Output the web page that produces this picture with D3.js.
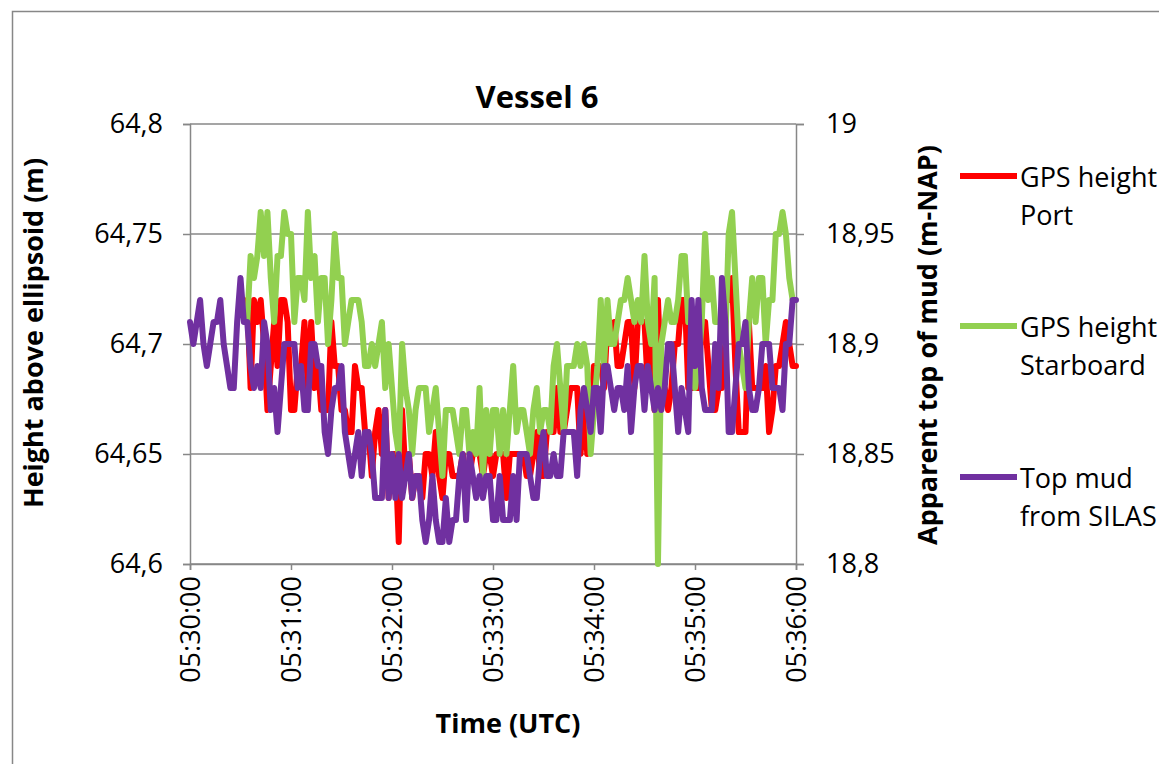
<!DOCTYPE html>
<html>
<head>
<meta charset="utf-8">
<script src="https://cdn.jsdelivr.net/npm/d3@7"></script>
<style>
  body { margin: 0; background: #fff; }
  svg { display: block; }
  text { font-family: "Open Sans", "Noto Sans", sans-serif; fill: #000; }
</style>
</head>
<body>
<svg id="chart" width="1159" height="764"></svg>
<script>
// ---- data -------------------------------------------------------------
const chartTitle = "Vessel 6";
const xTitle = "Time (UTC)";
const leftTitle = "Height above ellipsoid (m)";
const rightTitle = "Apparent top of mud (m-NAP)";

const timeTickLabels = ["05:30:00", "05:31:00", "05:32:00", "05:33:00", "05:34:00", "05:35:00", "05:36:00"];
const leftTicks = [64.6, 64.65, 64.7, 64.75, 64.8];
const rightTicks = [18.8, 18.85, 18.9, 18.95, 19];

const sampleSeconds = 2;           // logging interval of all three records
const gpsStart = "05:30:34";       // first GPS fix
const mudStart = "05:30:00";       // first SILAS reading

// GPS height, port antenna (m above ellipsoid)
const gpsPort = [
  64.72,64.68,64.72,64.71,64.72,64.70,64.67,64.69,64.71,64.69,
  64.72,64.72,64.71,64.67,64.67,64.69,64.69,64.71,64.68,64.71,
  64.68,64.69,64.67,64.67,64.67,64.71,64.69,64.69,64.67,64.67,
  64.66,64.66,64.69,64.68,64.68,64.66,64.66,64.64,64.66,64.67,
  64.65,64.67,64.63,64.65,64.65,64.61,64.67,64.64,64.65,64.63,
  64.64,64.64,64.63,64.65,64.65,64.64,64.66,64.64,64.63,64.65,
  64.65,64.64,64.64,64.64,64.65,64.64,64.64,64.65,64.65,64.65,
  64.64,64.65,64.65,64.64,64.65,64.65,64.65,64.63,64.65,64.65,
  64.65,64.65,64.65,64.64,64.64,64.65,64.66,64.64,64.64,64.66,
  64.66,64.66,64.68,64.66,64.66,64.67,64.68,64.68,64.68,64.65,
  64.67,64.65,64.67,64.69,64.69,64.69,64.68,64.71,64.70,64.71,
  64.69,64.69,64.70,64.71,64.71,64.68,64.71,64.71,64.71,64.68,
  64.70,64.67,64.72,64.68,64.68,64.67,64.68,64.70,64.70,64.72,
  64.72,64.68,64.68,64.68,64.68,64.71,64.71,64.69,64.67,64.67,
  64.68,64.68,64.72,64.72,64.73,64.69,64.66,64.66,64.66,64.71,
  64.68,64.68,64.68,64.68,64.69,64.66,64.67,64.69,64.69,64.70,
  64.71,64.70,64.69,64.69
];

// GPS height, starboard antenna (m above ellipsoid)
const gpsStarboard = [
  64.71,64.74,64.73,64.74,64.76,64.74,64.76,64.73,64.71,64.74,
  64.74,64.76,64.75,64.75,64.71,64.73,64.73,64.72,64.76,64.73,
  64.74,64.71,64.73,64.73,64.70,64.72,64.75,64.73,64.73,64.70,
  64.71,64.72,64.72,64.72,64.71,64.69,64.69,64.70,64.69,64.70,
  64.71,64.68,64.70,64.68,64.66,64.65,64.70,64.68,64.67,64.65,
  64.67,64.68,64.68,64.68,64.66,64.67,64.68,64.66,64.64,64.67,
  64.67,64.67,64.66,64.65,64.67,64.67,64.65,64.66,64.65,64.68,
  64.64,64.67,64.65,64.67,64.67,64.65,64.67,64.65,64.67,64.69,
  64.66,64.67,64.67,64.66,64.65,64.67,64.68,64.66,64.67,64.67,
  64.66,64.69,64.70,64.68,64.66,64.69,64.69,64.69,64.70,64.69,
  64.70,64.69,64.65,64.67,64.69,64.72,64.69,64.72,64.70,64.70,
  64.71,64.72,64.72,64.73,64.72,64.71,64.72,64.71,64.74,64.71,
  64.70,64.73,64.60,64.70,64.71,64.72,64.71,64.71,64.72,64.74,
  64.74,64.71,64.71,64.68,64.69,64.71,64.75,64.72,64.73,64.71,
  64.71,64.71,64.70,64.75,64.76,64.73,64.70,64.69,64.68,64.71,
  64.73,64.71,64.73,64.73,64.70,64.72,64.72,64.75,64.75,64.76,
  64.75,64.73,64.72
];

// Apparent top of mud from SILAS (m-NAP)
const topMud = [
  18.91,18.90,18.91,18.92,18.90,18.89,18.90,18.91,18.91,18.92,
  18.90,18.89,18.88,18.88,18.91,18.93,18.91,18.91,18.89,18.88,
  18.89,18.88,18.91,18.90,18.87,18.88,18.86,18.88,18.90,18.90,
  18.90,18.90,18.88,18.89,18.87,18.87,18.90,18.90,18.89,18.89,
  18.86,18.85,18.87,18.88,18.88,18.89,18.86,18.85,18.84,18.85,
  18.86,18.84,18.86,18.86,18.85,18.83,18.83,18.83,18.87,18.83,
  18.85,18.83,18.85,18.83,18.84,18.85,18.83,18.84,18.84,18.82,
  18.81,18.82,18.84,18.82,18.81,18.81,18.83,18.81,18.82,18.82,
  18.84,18.85,18.82,18.85,18.84,18.83,18.84,18.83,18.84,18.84,
  18.82,18.82,18.84,18.82,18.82,18.82,18.84,18.82,18.85,18.85,
  18.85,18.84,18.83,18.83,18.85,18.86,18.84,18.84,18.85,18.84,
  18.84,18.86,18.86,18.86,18.86,18.84,18.87,18.88,18.87,18.86,
  18.88,18.88,18.86,18.89,18.89,18.88,18.87,18.88,18.88,18.87,
  18.89,18.86,18.88,18.89,18.89,18.87,18.89,18.88,18.87,18.88,
  18.87,18.88,18.90,18.90,18.88,18.86,18.88,18.87,18.86,18.92,
  18.89,18.92,18.88,18.87,18.87,18.87,18.90,18.88,18.93,18.91,
  18.86,18.86,18.88,18.90,18.90,18.91,18.88,18.87,18.87,18.88,
  18.90,18.90,18.90,18.88,18.88,18.88,18.87,18.90,18.90,18.92,
  18.92
];

const seriesInfo = [
  { name: ["GPS height", "Port"], color: "#FF0000" },
  { name: ["GPS height", "Starboard"], color: "#92D050" },
  { name: ["Top mud", "from SILAS"], color: "#7030A0" }
];

// ---- layout -----------------------------------------------------------
const plot = { left: 190, right: 796, top: 124, bottom: 564 };
const gridColor = "#878787";

const parseTime = d3.timeParse("%H:%M:%S");
const toSeries = (startStr, values) => {
  const t0 = parseTime(startStr);
  return values.map((v, i) => ({ t: new Date(t0.getTime() + i * sampleSeconds * 1000), v }));
};

const x = d3.scaleTime()
  .domain([parseTime(timeTickLabels[0]), parseTime(timeTickLabels[timeTickLabels.length - 1])])
  .range([plot.left, plot.right]);
const yLeft = d3.scaleLinear().domain([64.6, 64.8]).range([plot.bottom, plot.top]);
const yRight = d3.scaleLinear().domain([18.8, 19]).range([plot.bottom, plot.top]);

const nl = d3.formatLocale({ decimal: ",", thousands: ".", grouping: [3], currency: ["", ""] });
const fmt = nl.format("~g");

const svg = d3.select("#chart");

// chart-area frame
svg.append("rect")
  .attr("x", 12.5).attr("y", 11.5)
  .attr("width", 1300).attr("height", 900)
  .attr("fill", "none").attr("stroke", gridColor).attr("stroke-width", 1.5);

// title
svg.append("text")
  .attr("x", 537).attr("y", 108)
  .attr("text-anchor", "middle")
  .style("font-weight", "bold").style("font-size", "31px")
  .text(chartTitle);

// horizontal gridlines
svg.append("g").selectAll("line").data(leftTicks).join("line")
  .attr("x1", plot.left).attr("x2", plot.right)
  .attr("y1", d => yLeft(d)).attr("y2", d => yLeft(d))
  .attr("stroke", gridColor).attr("stroke-width", 1.5);

// left axis
const gL = svg.append("g").attr("transform", `translate(${plot.left},0)`)
  .call(d3.axisLeft(yLeft).tickValues(leftTicks).tickFormat(fmt).tickSize(7).tickPadding(20));
// right axis
const gR = svg.append("g").attr("transform", `translate(${plot.right},0)`)
  .call(d3.axisRight(yRight).tickValues(rightTicks).tickFormat(fmt).tickSize(8).tickPadding(22));
// bottom axis
const gB = svg.append("g").attr("transform", `translate(0,${plot.bottom})`)
  .call(d3.axisBottom(x).tickValues(timeTickLabels.map(parseTime)).tickFormat(d3.timeFormat("%H:%M:%S")).tickSize(6));

[gL, gR, gB].forEach(g => {
  g.select(".domain").attr("stroke", gridColor).attr("stroke-width", 1.5);
  g.selectAll(".tick line").attr("stroke", gridColor).attr("stroke-width", 1.5);
  g.selectAll(".tick text").style("font-size", "27px").style("font-family", '"Open Sans", sans-serif').attr("fill", "#000");
});
gB.selectAll(".tick text")
  .attr("text-anchor", "end")
  .attr("transform", "rotate(-90)")
  .attr("x", -12).attr("y", 0).attr("dy", "0.35em");

// series lines
const lineL = d3.line().x(d => x(d.t)).y(d => yLeft(d.v));
const lineR = d3.line().x(d => x(d.t)).y(d => yRight(d.v));
const drawn = [
  { data: toSeries(gpsStart, gpsPort), gen: lineL, info: seriesInfo[0] },
  { data: toSeries(gpsStart, gpsStarboard), gen: lineL, info: seriesInfo[1] },
  { data: toSeries(mudStart, topMud), gen: lineR, info: seriesInfo[2] }
];
svg.append("g").selectAll("path").data(drawn).join("path")
  .attr("d", d => d.gen(d.data))
  .attr("fill", "none")
  .attr("stroke", d => d.info.color)
  .attr("stroke-width", 6)
  .attr("stroke-linejoin", "round")
  .attr("stroke-linecap", "round");

// axis titles
svg.append("text")
  .attr("x", 508).attr("y", 733)
  .attr("text-anchor", "middle")
  .style("font-weight", "bold").style("font-size", "27px")
  .text(xTitle);
svg.append("text")
  .attr("transform", "translate(43,333) rotate(-90)")
  .attr("text-anchor", "middle")
  .style("font-weight", "bold").style("font-size", "27px")
  .text(leftTitle);
svg.append("text")
  .attr("transform", "translate(937,345) rotate(-90)")
  .attr("text-anchor", "middle")
  .style("font-weight", "bold").style("font-size", "27px")
  .text(rightTitle);

// legend
const legendY = [176, 326, 477];
const leg = svg.append("g").selectAll("g").data(seriesInfo).join("g")
  .attr("transform", (d, i) => `translate(960,${legendY[i]})`);
leg.append("line")
  .attr("x1", 0).attr("x2", 57)
  .attr("stroke", d => d.color).attr("stroke-width", 6);
leg.append("text")
  .attr("x", 60).attr("y", 11)
  .style("font-size", "27px")
  .selectAll("tspan").data(d => d.name).join("tspan")
  .attr("x", 60).attr("dy", (d, i) => i === 0 ? 0 : 38)
  .text(d => d);
</script>
</body>
</html>
